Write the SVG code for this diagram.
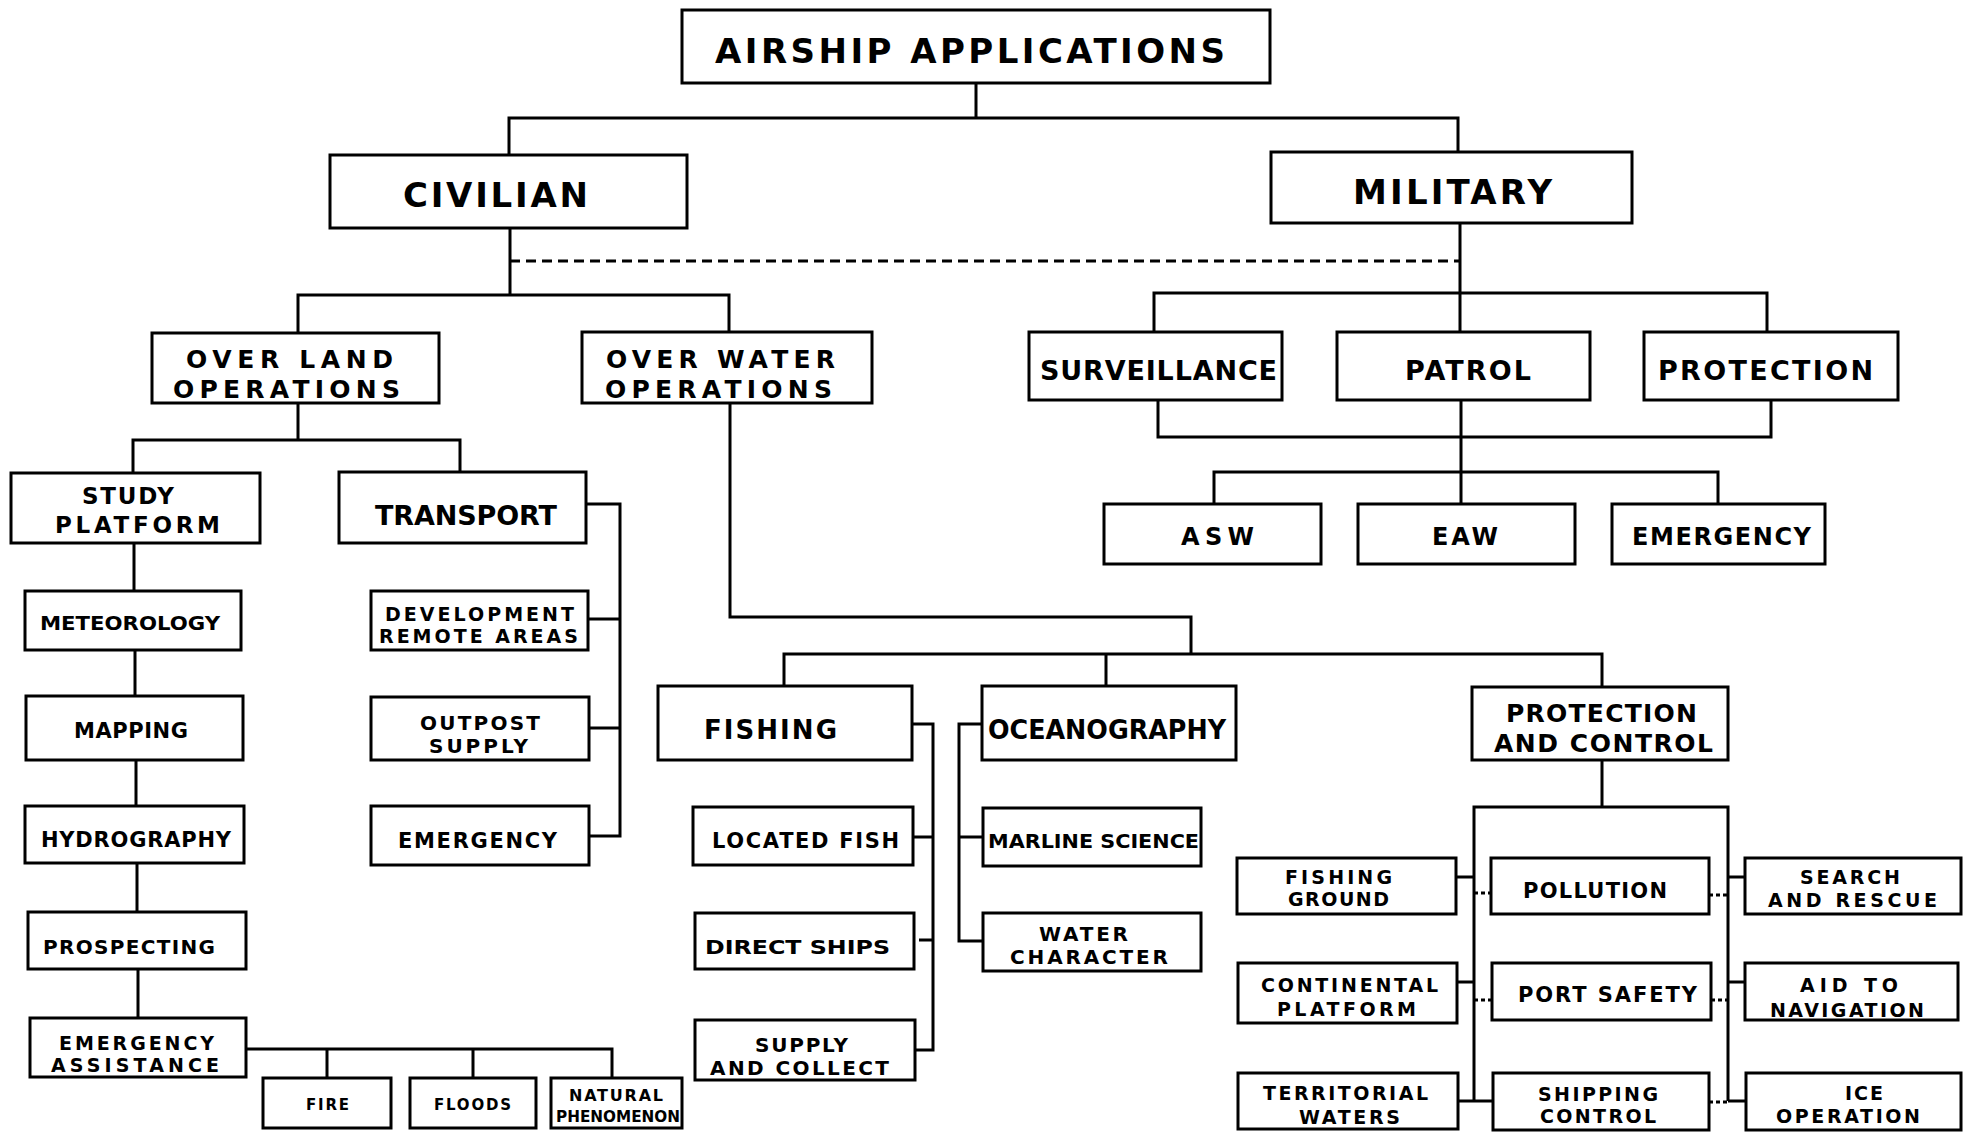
<svg xmlns="http://www.w3.org/2000/svg" width="1971" height="1132" viewBox="0 0 1971 1132">
<style>
.bx{fill:#fff;stroke:#000;stroke-width:3}
.ln{fill:none;stroke:#000;stroke-width:3}
.dl{fill:none;stroke:#000;stroke-width:3;stroke-dasharray:10 6}
.dt{fill:none;stroke:#000;stroke-width:3;stroke-dasharray:4 3}
text{font-family:"DejaVu Sans","Liberation Sans",Arial,sans-serif;font-weight:bold;fill:#000}
.f34{font-size:34px}.f27{font-size:27px}.f26{font-size:26px}.f25{font-size:25px}.f24{font-size:24px}.f23{font-size:23px}.f22{font-size:22px}.f21{font-size:21px}.f20{font-size:20px}.f19{font-size:19px}.f18{font-size:18px}.f16{font-size:16px}.f15{font-size:15px}
</style>
<rect width="1971" height="1132" fill="#fff"/>
<g id="connectors">
<path class="ln" d="M976 83 V118 M509 155 V118 H1458 V152"/>
<path class="ln" d="M510 228 V295 M298 333 V295 H729 V332"/>
<path class="dl" d="M510 261 H1460"/>
<path class="ln" d="M1460 223 V332 M1154 332 V293 H1767 V332"/>
<path class="ln" d="M1158 400 V437 H1771 V400 M1461 400 V504 M1214 504 V472 H1718 V504"/>
<path class="ln" d="M298 403 V440 M133 473 V440 H460 V472"/>
<path class="ln" d="M134 543 V591 M135 650 V696 M136 760 V806 M137 863 V912 M138 969 V1018"/>
<path class="ln" d="M246 1049 H612 V1078 M327 1049 V1078 M473 1049 V1078"/>
<path class="ln" d="M586 504 H620 V836 H588 M588 619 H620 M589 728 H620"/>
<path class="ln" d="M730 403 V617 H1191 V654 M784 686 V654 H1602 V687 M1106 654 V686"/>
<path class="ln" d="M912 724 H933 V1050 H915 M913 837 H933 M919 940 H933"/>
<path class="ln" d="M982 724 H959 V941 H983 M959 837 H983"/>
<path class="ln" d="M1602 760 V807 M1474 1101 V807 H1728 V1101"/>
<path class="ln" d="M1456 877 H1474 M1728 877 H1745 M1457 982 H1474 M1728 982 H1745 M1458 1101 H1493 M1728 1101 H1746"/>
<path class="dt" d="M1474 893 H1491 M1709 895 H1728 M1474 1000 H1492 M1711 1000 H1728 M1709 1102 H1728"/>
</g>
<g id="airship"><rect class="bx" x="682" y="10" width="588" height="73"/><text class="f34" x="715" y="63" textLength="510">AIRSHIP APPLICATIONS</text></g>
<g id="civilian"><rect class="bx" x="330" y="155" width="357" height="73"/><text class="f34" x="403" y="207" textLength="185">CIVILIAN</text></g>
<g id="military"><rect class="bx" x="1271" y="152" width="361" height="71"/><text class="f34" x="1353" y="204" textLength="199">MILITARY</text></g>
<g id="overland"><rect class="bx" x="152" y="333" width="287" height="70"/><text class="f25" x="186" y="368" textLength="207">OVER LAND</text><text class="f25" x="173" y="398" textLength="227">OPERATIONS</text></g>
<g id="overwater"><rect class="bx" x="582" y="332" width="290" height="71"/><text class="f25" x="606" y="368" textLength="229">OVER WATER</text><text class="f25" x="605" y="398" textLength="227">OPERATIONS</text></g>
<g id="surveillance"><rect class="bx" x="1029" y="332" width="253" height="68"/><text class="f27" x="1040" y="380" textLength="237">SURVEILLANCE</text></g>
<g id="patrol"><rect class="bx" x="1337" y="332" width="253" height="68"/><text class="f27" x="1405" y="380" textLength="126">PATROL</text></g>
<g id="protection"><rect class="bx" x="1644" y="332" width="254" height="68"/><text class="f27" x="1658" y="380" textLength="215">PROTECTION</text></g>
<g id="asw"><rect class="bx" x="1104" y="504" width="217" height="60"/><text class="f24" x="1181" y="545" textLength="73">ASW</text></g>
<g id="eaw"><rect class="bx" x="1358" y="504" width="217" height="60"/><text class="f24" x="1432" y="545" textLength="66">EAW</text></g>
<g id="mil-emergency"><rect class="bx" x="1612" y="504" width="213" height="60"/><text class="f24" x="1632" y="545" textLength="179">EMERGENCY</text></g>
<g id="study"><rect class="bx" x="11" y="473" width="249" height="70"/><text class="f23" x="82" y="504" textLength="92">STUDY</text><text class="f23" x="55" y="533" textLength="165">PLATFORM</text></g>
<g id="transport"><rect class="bx" x="339" y="472" width="247" height="71"/><text class="f27" x="375" y="525" textLength="182">TRANSPORT</text></g>
<g id="meteorology"><rect class="bx" x="25" y="591" width="216" height="59"/><text class="f20" x="40" y="630" textLength="180" lengthAdjust="spacingAndGlyphs">METEOROLOGY</text></g>
<g id="mapping"><rect class="bx" x="26" y="696" width="217" height="64"/><text class="f21" x="74" y="738" textLength="114">MAPPING</text></g>
<g id="hydrography"><rect class="bx" x="25" y="806" width="219" height="57"/><text class="f21" x="41" y="847" textLength="190">HYDROGRAPHY</text></g>
<g id="prospecting"><rect class="bx" x="28" y="912" width="218" height="57"/><text class="f20" x="43" y="954" textLength="172">PROSPECTING</text></g>
<g id="emergency-assistance"><rect class="bx" x="30" y="1018" width="216" height="59"/><text class="f19" x="59" y="1050" textLength="155">EMERGENCY</text><text class="f19" x="51" y="1072" textLength="168">ASSISTANCE</text></g>
<g id="fire"><rect class="bx" x="263" y="1078" width="128" height="50"/><text class="f15" x="306" y="1110" textLength="43">FIRE</text></g>
<g id="floods"><rect class="bx" x="410" y="1078" width="126" height="50"/><text class="f15" x="434" y="1110" textLength="77">FLOODS</text></g>
<g id="natural"><rect class="bx" x="551" y="1078" width="131" height="50"/><text class="f16" x="569" y="1101" textLength="94">NATURAL</text><text class="f15" x="556" y="1122" textLength="124" lengthAdjust="spacingAndGlyphs">PHENOMENON</text></g>
<g id="development"><rect class="bx" x="371" y="591" width="217" height="59"/><text class="f19" x="385" y="621" textLength="189">DEVELOPMENT</text><text class="f19" x="379" y="643" textLength="199">REMOTE  AREAS</text></g>
<g id="outpost"><rect class="bx" x="371" y="697" width="218" height="63"/><text class="f20" x="420" y="730" textLength="120">OUTPOST</text><text class="f20" x="429" y="753" textLength="99">SUPPLY</text></g>
<g id="transport-emergency"><rect class="bx" x="371" y="806" width="218" height="59"/><text class="f21" x="398" y="848" textLength="159">EMERGENCY</text></g>
<g id="fishing"><rect class="bx" x="658" y="686" width="254" height="74"/><text class="f26" x="704" y="739" textLength="133">FISHING</text></g>
<g id="oceanography"><rect class="bx" x="982" y="686" width="254" height="74"/><text class="f26" x="988" y="739" textLength="238" lengthAdjust="spacingAndGlyphs">OCEANOGRAPHY</text></g>
<g id="located-fish"><rect class="bx" x="693" y="807" width="220" height="58"/><text class="f21" x="712" y="848" textLength="187">LOCATED FISH</text></g>
<g id="direct-ships"><rect class="bx" x="695" y="913" width="219" height="56"/><text class="f20" x="705" y="954" textLength="185" lengthAdjust="spacingAndGlyphs">DIRECT SHIPS</text></g>
<g id="supply-collect"><rect class="bx" x="695" y="1020" width="220" height="60"/><text class="f20" x="755" y="1052" textLength="93">SUPPLY</text><text class="f20" x="710" y="1075" textLength="179">AND COLLECT</text></g>
<g id="marline"><rect class="bx" x="983" y="808" width="218" height="58"/><text class="f20" x="988" y="848" textLength="211" lengthAdjust="spacingAndGlyphs">MARLINE SCIENCE</text></g>
<g id="water-character"><rect class="bx" x="983" y="913" width="218" height="58"/><text class="f20" x="1039" y="941" textLength="89">WATER</text><text class="f20" x="1010" y="964" textLength="158">CHARACTER</text></g>
<g id="protection-control"><rect class="bx" x="1472" y="687" width="256" height="73"/><text class="f25" x="1506" y="722" textLength="191">PROTECTION</text><text class="f25" x="1494" y="752" textLength="219">AND  CONTROL</text></g>
<g id="fishing-ground"><rect class="bx" x="1237" y="858" width="219" height="56"/><text class="f19" x="1285" y="884" textLength="107">FISHING</text><text class="f19" x="1288" y="906" textLength="101">GROUND</text></g>
<g id="pollution"><rect class="bx" x="1491" y="858" width="218" height="56"/><text class="f21" x="1523" y="898" textLength="144">POLLUTION</text></g>
<g id="search-rescue"><rect class="bx" x="1745" y="858" width="216" height="56"/><text class="f19" x="1800" y="884" textLength="100">SEARCH</text><text class="f19" x="1768" y="907" textLength="169">AND  RESCUE</text></g>
<g id="continental"><rect class="bx" x="1238" y="963" width="219" height="60"/><text class="f19" x="1261" y="992" textLength="177">CONTINENTAL</text><text class="f19" x="1277" y="1016" textLength="139">PLATFORM</text></g>
<g id="port-safety"><rect class="bx" x="1492" y="963" width="219" height="57"/><text class="f21" x="1518" y="1002" textLength="179">PORT  SAFETY</text></g>
<g id="aid-navigation"><rect class="bx" x="1745" y="963" width="213" height="57"/><text class="f19" x="1800" y="992" textLength="98">AID  TO</text><text class="f19" x="1770" y="1017" textLength="154">NAVIGATION</text></g>
<g id="territorial"><rect class="bx" x="1238" y="1073" width="220" height="56"/><text class="f19" x="1263" y="1100" textLength="165">TERRITORIAL</text><text class="f19" x="1299" y="1124" textLength="101">WATERS</text></g>
<g id="shipping-control"><rect class="bx" x="1493" y="1073" width="216" height="57"/><text class="f19" x="1538" y="1101" textLength="120">SHIPPING</text><text class="f19" x="1540" y="1123" textLength="116">CONTROL</text></g>
<g id="ice-operation"><rect class="bx" x="1746" y="1073" width="215" height="57"/><text class="f19" x="1845" y="1100" textLength="38">ICE</text><text class="f19" x="1776" y="1123" textLength="144">OPERATION</text></g>
</svg>
